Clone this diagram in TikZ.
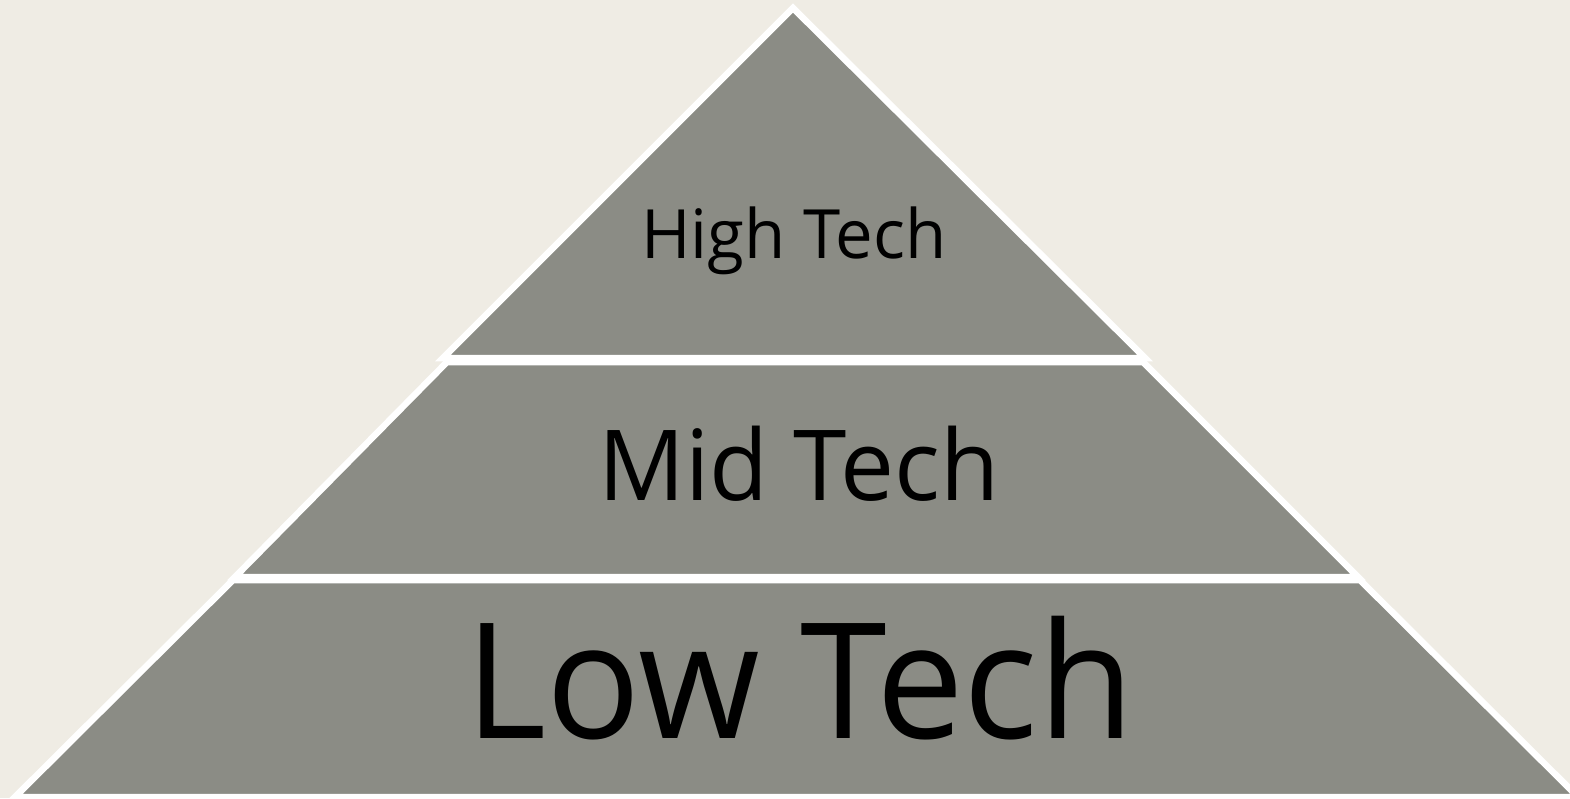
\documentclass[tikz,border=0pt]{standalone}
\usepackage{fontspec}
\setmainfont{Open Sans}
\definecolor{bgc}{RGB}{239,236,228}
\definecolor{layer}{RGB}{139,140,133}
\begin{document}
\begin{tikzpicture}[x=1pt,y=-1pt,
  tier/.style={fill=layer,draw=white,line width=6.5pt,line join=miter},
  lbl/.style={anchor=base,inner sep=0pt,text=black}]
\useasboundingbox (0,0) rectangle (1570,798);
\fill[bgc] (0,0) rectangle (1570,798);
\draw[tier] (15,797) -- (233,580) -- (1360,580) -- (1578,797) -- cycle;
\draw[tier] (235,577) -- (447,362) -- (1143,362) -- (1358,577) -- cycle;
\draw[tier] (443,358) -- (793,8) -- (1145,358) -- cycle;
\node[lbl,font=\fontsize{68}{68}\selectfont] (high) at (794,258) {\scalebox{0.987}[1]{High Tech}};
\node[lbl,font=\fontsize{98}{98}\selectfont] (mid) at (799,500) {\scalebox{0.982}[1]{Mid Tech}};
\node[lbl,font=\fontsize{161}{161}\selectfont] (low) at (800,738) {\scalebox{0.971}[1]{Low Tech}};
\end{tikzpicture}
\end{document}
